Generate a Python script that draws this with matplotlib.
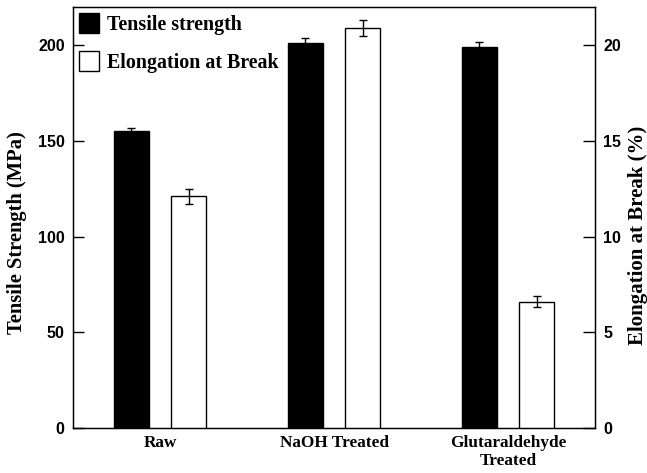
import matplotlib
matplotlib.use("Agg")
import matplotlib.pyplot as plt
import numpy as np
from matplotlib.patches import Patch

categories = ["Raw", "NaOH Treated", "Glutaraldehyde\nTreated"]
tensile = [155, 201, 199]
tensile_err = [2, 3, 2.5]
elong = [12.1, 20.9, 6.6]
elong_err = [0.4, 0.4, 0.3]

serif = "Liberation Serif"
sans = "Liberation Sans"

fig = plt.figure(figsize=(6.47, 4.73), dpi=100)
ax = fig.add_axes([73/647, 1-428/473, (595-73)/647, (428-7)/473])
ax2 = ax.twinx()

x = np.arange(len(categories))
w = 0.2
off = 0.164
ax.bar(x - off, tensile, w, color="black", edgecolor="black", linewidth=1,
       yerr=tensile_err, error_kw=dict(ecolor="black", elinewidth=1, capsize=3, capthick=1))
ax2.bar(x + off, elong, w, color="white", edgecolor="black", linewidth=1,
        yerr=elong_err, error_kw=dict(ecolor="black", elinewidth=1, capsize=3, capthick=1))

ax.set_xlim(-0.5, 2.5)
ax.set_ylim(0, 220)
ax2.set_ylim(0, 22)
ax.set_yticks([0, 50, 100, 150, 200])
ax2.set_yticks([0, 5, 10, 15, 20])
ax.set_xticks(x)
ax.set_xticklabels(categories, fontfamily=serif, fontweight="bold", fontsize=12.4)
ax.tick_params(axis="x", length=0, pad=5)
ax.tick_params(axis="y", direction="in", length=8, width=1, labelsize=11.5)
ax2.tick_params(axis="y", direction="in", length=9, width=1, labelsize=11.5)
for lab in ax.get_yticklabels() + ax2.get_yticklabels():
    lab.set_fontfamily(sans)
    lab.set_fontweight("bold")
ax.yaxis.set_tick_params(pad=6)
ax2.yaxis.set_tick_params(pad=6)

ax.set_ylabel("Tensile Strength (MPa)", fontfamily=serif, fontweight="bold", fontsize=14.8)
ax2.set_ylabel("Elongation at Break (%)", fontfamily=serif, fontweight="bold", fontsize=15)
ax.yaxis.set_label_coords(-0.088, 0.464)
ax2.yaxis.set_label_coords(1.063, 0.457)

handles = [Patch(facecolor="black", edgecolor="black", label="Tensile strength"),
           Patch(facecolor="white", edgecolor="black", label="Elongation at Break")]
ax.legend(handles=handles, loc="upper left", frameon=False,
          prop=dict(family=serif, weight="bold", size=14.4),
          handlelength=1.0, handleheight=1.2, handletextpad=0.4,
          borderaxespad=0.2, borderpad=0.1, labelspacing=0.8)

for sp in ax.spines.values():
    sp.set_linewidth(1)

fig.savefig("out.png", dpi=100)
